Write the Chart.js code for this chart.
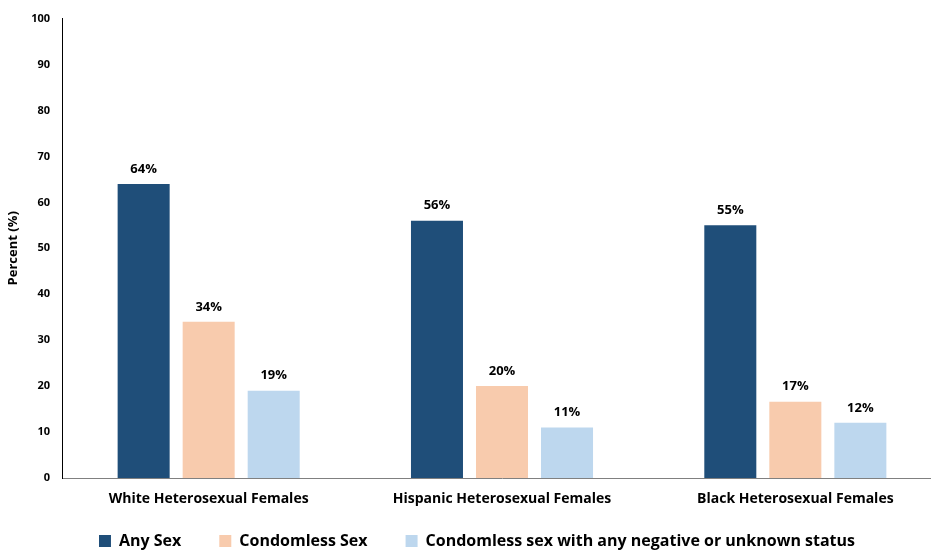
<!DOCTYPE html>
<html>
<head>
<meta charset="utf-8">
<script src="https://cdn.jsdelivr.net/npm/chart.js@4.4.1/dist/chart.umd.min.js"></script>
<style>
  html, body { margin: 0; padding: 0; background: #fff; overflow: hidden; }
  #wrap { position: relative; width: 942px; height: 555px; }
</style>
</head>
<body>
<div id="wrap"><canvas id="c"></canvas></div>
<script>
const categories = ["White Heterosexual Females", "Hispanic Heterosexual Females", "Black Heterosexual Females"];
const anySex = [64, 56, 55];
const condomlessSex = [34, 20, 16.6];
const condomlessNegUnknown = [19, 11, 12];
const seriesNames = ["Any Sex", "Condomless Sex", "Condomless sex with any negative or unknown status"];
const seriesColors = ["#1F4E79", "#F8CBAD", "#BDD7EE"];
const yTicks = [0, 10, 20, 30, 40, 50, 60, 70, 80, 90, 100];

const FONT = "'Open Sans'";

const valueLabels = {
  id: "valueLabels",
  afterDatasetsDraw(chart) {
    const ctx = chart.ctx;
    ctx.save();
    ctx.font = "bold 13px " + FONT;
    ctx.fillStyle = "#000";
    ctx.textAlign = "center";
    ctx.textBaseline = "middle";
    chart.data.datasets.forEach((ds, i) => {
      chart.getDatasetMeta(i).data.forEach((bar, j) => {
        ctx.fillText(Math.round(ds.data[j]) + "%", bar.x, bar.y - 15);
      });
    });
    ctx.restore();
  }
};

const legendShift = {
  id: "legendShift",
  afterLayout(chart) {
    const lg = chart.legend;
    if (!lg) return;
    lg.top -= 13; lg.bottom -= 13;
    lg.left += 6; lg.right += 6;
  }
};

new Chart(document.getElementById("c"), {
  type: "bar",
  data: {
    labels: categories,
    datasets: [
      { label: seriesNames[0], data: anySex, backgroundColor: seriesColors[0] },
      { label: seriesNames[1], data: condomlessSex, backgroundColor: seriesColors[1] },
      { label: seriesNames[2], data: condomlessNegUnknown, backgroundColor: seriesColors[2] }
    ]
  },
  options: {
    responsive: true,
    maintainAspectRatio: false,
    animation: false,
    devicePixelRatio: 1,
    layout: { padding: { top: 17, right: 0, bottom: -17, left: 0 } },
    datasets: { bar: { categoryPercentage: 0.665, barPercentage: 0.8 } },
    plugins: {
      legend: {
        position: "bottom",
        labels: {
          boxWidth: 12, boxHeight: 12, padding: 38,
          color: "#000",
          font: { family: FONT, size: 16, weight: "bold" }
        }
      },
      tooltip: { enabled: false },
      title: { display: false }
    },
    scales: {
      x: {
        grid: { display: false, drawTicks: false },
        border: { display: true, color: "#808080", width: 1 },
        ticks: { color: "#000", padding: 13, font: { family: FONT, size: 14, weight: "bold" }, maxRotation: 0 },
        afterFit(s) { s.height = 30; }
      },
      y: {
        min: 0, max: 100,
        afterBuildTicks(s) { s.ticks = yTicks.map(v => ({ value: v })); },
        grid: { display: false, drawTicks: false },
        border: { display: true, color: "#000", width: 1 },
        ticks: { color: "#000", padding: 12, font: { family: FONT, size: 11, weight: "bold" } },
        title: { display: true, text: "Percent (%)", color: "#000", padding: { top: 5, bottom: 2 }, font: { family: FONT, size: 13, weight: "bold" } },
        afterFit(s) { s.width = 62; }
      }
    }
  },
  plugins: [valueLabels, legendShift]
});
</script>
</body>
</html>
